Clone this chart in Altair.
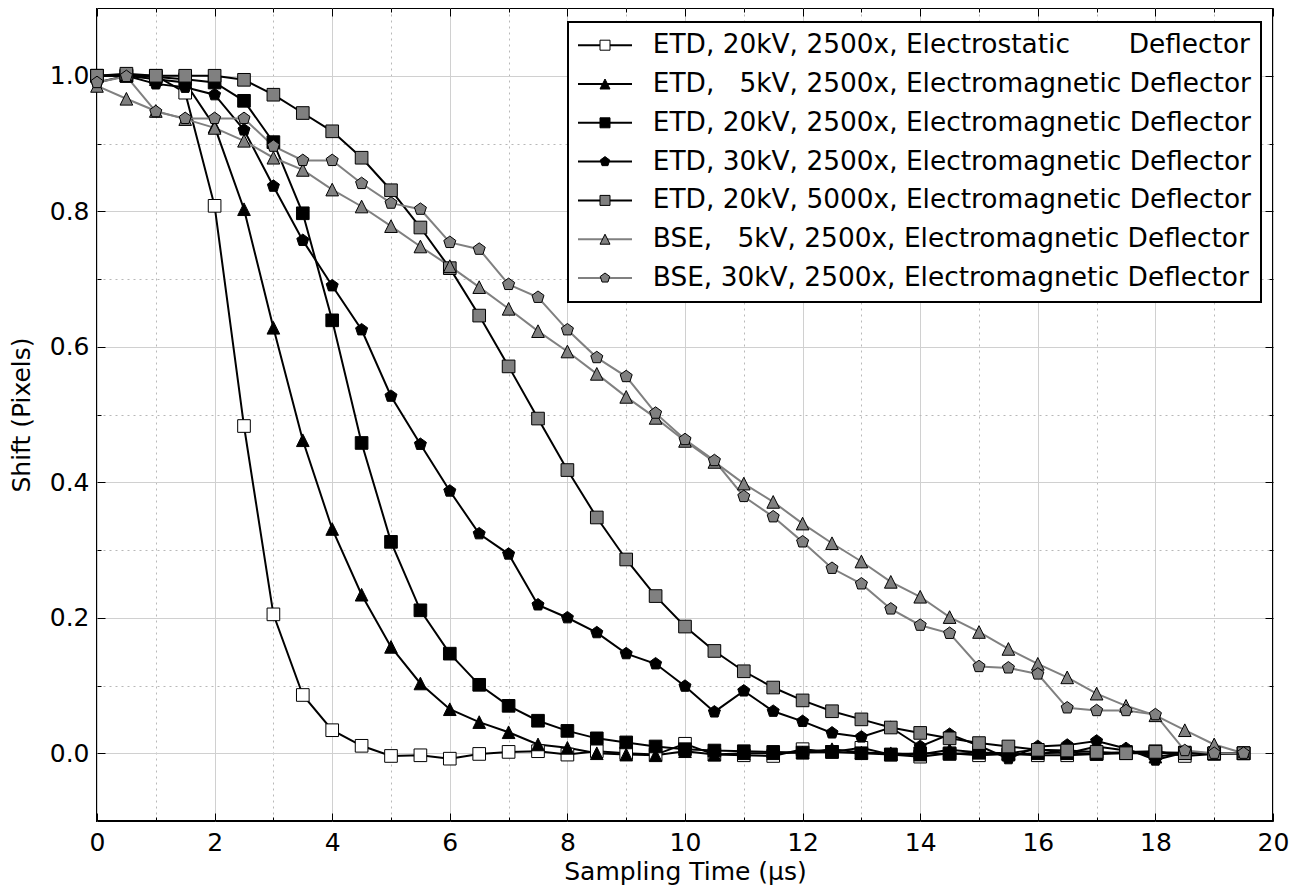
import altair as alt
import pandas as pd

NB = "\u00a0"

# ---- data -------------------------------------------------------------
x_time = [0.0, 0.5, 1.0, 1.5, 2.0, 2.5, 3.0, 3.5, 4.0, 4.5,
          5.0, 5.5, 6.0, 6.5, 7.0, 7.5, 8.0, 8.5, 9.0, 9.5,
          10.0, 10.5, 11.0, 11.5, 12.0, 12.5, 13.0, 13.5, 14.0, 14.5,
          15.0, 15.5, 16.0, 16.5, 17.0, 17.5, 18.0, 18.5, 19.0, 19.5]

names = [
    "ETD, 20kV, 2500x, Electrostatic" + NB * 7 + "Deflector",
    "ETD," + NB * 3 + "5kV, 2500x, Electromagnetic Deflector",
    "ETD, 20kV, 2500x, Electromagnetic Deflector",
    "ETD, 30kV, 2500x, Electromagnetic Deflector",
    "ETD, 20kV, 5000x, Electromagnetic Deflector",
    "BSE," + NB * 3 + "5kV, 2500x, Electromagnetic Deflector",
    "BSE, 30kV, 2500x, Electromagnetic Deflector",
]

etd20_es = [1.0, 1.0, 1.0, 0.975, 0.808, 0.483, 0.205, 0.086, 0.034, 0.011,
            -0.004, -0.003, -0.008, -0.001, 0.002, 0.003, -0.002, 0.003, 0.0, -0.002,
            0.014, -0.002, -0.003, -0.004, 0.006, 0.002, 0.008, -0.002, -0.005, 0.0,
            -0.003, -0.001, -0.003, -0.003, -0.001, 0.002, 0.003, -0.004, -0.001, 0.0]

etd5_em = [1.0, 1.0, 0.995, 0.99, 0.925, 0.803, 0.628, 0.462, 0.331, 0.234,
           0.157, 0.103, 0.065, 0.046, 0.031, 0.013, 0.008, 0.0, -0.002, -0.003,
           0.003, -0.002, 0.0, 0.0, 0.001, 0.006, 0.001, 0.0, -0.002, 0.005,
           0.001, 0.0, 0.006, 0.0, 0.01, 0.004, -0.005, 0.0, 0.0, 0.0]

etd20_em = [1.0, 1.0, 0.998, 0.995, 0.99, 0.963, 0.902, 0.797, 0.639, 0.458,
            0.312, 0.211, 0.147, 0.101, 0.07, 0.048, 0.033, 0.022, 0.016, 0.01,
            0.006, 0.004, 0.003, 0.002, 0.001, 0.002, 0.0, -0.002, 0.0, -0.001,
            0.001, -0.002, 0.0, 0.001, -0.001, 0.0, 0.0, 0.001, 0.0, 0.0]

etd30_em = [0.99, 1.0, 0.988, 0.983, 0.972, 0.92, 0.837, 0.757, 0.69, 0.625,
            0.527, 0.456, 0.387, 0.324, 0.294, 0.219, 0.2, 0.178, 0.147, 0.132,
            0.099, 0.061, 0.092, 0.062, 0.047, 0.03, 0.024, 0.038, 0.01, 0.028,
            0.011, -0.008, 0.01, 0.012, 0.018, 0.007, -0.01, 0.001, 0.0, 0.0]

etd20_5000 = [1.0, 1.003, 1.0, 1.0, 1.0, 0.994, 0.972, 0.945, 0.918, 0.879,
              0.831, 0.776, 0.716, 0.646, 0.571, 0.494, 0.418, 0.348, 0.286, 0.232,
              0.187, 0.151, 0.121, 0.097, 0.078, 0.062, 0.05, 0.038, 0.03, 0.022,
              0.015, 0.01, 0.005, 0.004, 0.002, 0.0, 0.002, 0.0, 0.0, 0.0]

bse5_em = [0.985, 0.966, 0.948, 0.936, 0.923, 0.904, 0.879, 0.861, 0.832, 0.807,
           0.778, 0.748, 0.719, 0.688, 0.656, 0.623, 0.593, 0.56, 0.526, 0.495,
           0.461, 0.43, 0.398, 0.371, 0.339, 0.31, 0.283, 0.253, 0.231, 0.201,
           0.179, 0.154, 0.132, 0.112, 0.088, 0.07, 0.056, 0.034, 0.013, 0.0]

bse30_em = [0.99, 0.999, 0.947, 0.937, 0.937, 0.937, 0.896, 0.875, 0.875, 0.841,
            0.812, 0.803, 0.754, 0.744, 0.692, 0.673, 0.625, 0.584, 0.556, 0.502,
            0.463, 0.432, 0.379, 0.349, 0.312, 0.273, 0.25, 0.213, 0.189, 0.177,
            0.128, 0.126, 0.117, 0.067, 0.063, 0.063, 0.057, 0.004, 0.0, 0.0]

series_values = [etd20_es, etd5_em, etd20_em, etd30_em, etd20_5000, bse5_em, bse30_em]

x_major = [0, 2, 4, 6, 8, 10, 12, 14, 16, 18, 20]
x_minor = [1, 3, 5, 7, 9, 11, 13, 15, 17, 19]
y_major = [0.0, 0.2, 0.4, 0.6, 0.8, 1.0]
y_minor = [0.1, 0.3, 0.5, 0.7, 0.9]

# ---- styles -------------------------------------------------------------
GRAY = "#808080"
line_colors = ["black", "black", "black", "black", "black", GRAY, GRAY]
fill_colors = ["white", "black", "black", "black", GRAY, GRAY, GRAY]
edge_colors = ["black"] * 7
SQUARE = "M-1,-1H1V1H-1Z"
TRIANGLE = "M0,-1L1,1L-1,1Z"
PENTAGON = "M0,-1L0.951,-0.309L0.588,0.809L-0.588,0.809L-0.951,-0.309Z"
shape_paths = [SQUARE, TRIANGLE, SQUARE, PENTAGON, SQUARE, TRIANGLE, PENTAGON]

rows = []
for name, ys in zip(names, series_values):
    for xv, yv in zip(x_time, ys):
        rows.append({"t": xv, "shift": yv, "series": name, "series_m": name})
df = pd.DataFrame(rows)

xscale = alt.Scale(domain=[0, 20], nice=False, zero=False)
yscale = alt.Scale(domain=[-0.1, 1.1], nice=False, zero=False)

FS = 25
GRID_MAJOR = "#d0d0d0"
GRID_MINOR = "#b8b8b8"


def carrier(xaxis, yaxis):
    return alt.Chart(df).mark_point(opacity=0).encode(
        x=alt.X("t:Q", scale=xscale, axis=xaxis),
        y=alt.Y("shift:Q", scale=yscale, axis=yaxis),
    )


def tick_axis(orient, values, size):
    return alt.Axis(orient=orient, values=values, grid=False, ticks=True,
                    tickSize=size, tickColor="black", tickWidth=1,
                    labels=False, domain=False, offset=-size, title=None)


x_main = alt.Axis(orient="bottom", values=x_major, grid=True, gridColor=GRID_MAJOR,
                  gridWidth=1, ticks=False, domain=False, labels=True,
                  labelFontSize=FS, labelColor="black", labelPadding=9,
                  labelFlush=False, labelOverlap=False, format="d",
                  title="Sampling Time (μs)", titleFontSize=FS,
                  titleFontWeight="normal", titleColor="black", titlePadding=4)
y_main = alt.Axis(orient="left", values=y_major, grid=True, gridColor=GRID_MAJOR,
                  gridWidth=1, ticks=False, domain=False, labels=True,
                  labelFontSize=FS, labelColor="black", labelPadding=8,
                  labelFlush=False, labelOverlap=False, format=".1f",
                  title="Shift (Pixels)", titleFontSize=FS,
                  titleFontWeight="normal", titleColor="black", titlePadding=15)
x_mgrid = alt.Axis(orient="bottom", values=x_minor, grid=True, gridColor=GRID_MINOR,
                   gridDash=[2, 4], gridWidth=1, ticks=False, labels=False,
                   domain=False, title=None)
y_mgrid = alt.Axis(orient="left", values=y_minor, grid=True, gridColor=GRID_MINOR,
                   gridDash=[2, 4], gridWidth=1, ticks=False, labels=False,
                   domain=False, title=None)

carriers = [
    carrier(x_main, y_main),
    carrier(x_mgrid, y_mgrid),
    carrier(tick_axis("bottom", x_major, 8), tick_axis("left", y_major, 8)),
    carrier(tick_axis("bottom", x_minor, 4), tick_axis("left", y_minor, 4)),
    carrier(tick_axis("top", x_major, 8), tick_axis("right", y_major, 8)),
    carrier(tick_axis("top", x_minor, 4), tick_axis("right", y_minor, 4)),
]

legend_common = dict(orient="none", legendX=471, legendY=14, direction="vertical",
                     labelFontSize=26.4, labelFont="DejaVu Sans", labelLimit=1200,
                     labelColor="black", rowPadding=11.8, padding=10,
                     symbolOffset=13.8, labelOffset=34.6, symbolSize=100)

legend_lines = alt.Legend(title=None, symbolType="M-5.4,0H5.4", symbolStrokeWidth=2,
                          strokeColor="black", fillColor="white", zindex=1,
                          **legend_common)
legend_marks = alt.Legend(title=None, labelOpacity=0,
                          symbolStrokeWidth=1, zindex=2, **legend_common)

lines = alt.Chart(df).mark_line(strokeWidth=2).encode(
    x=alt.X("t:Q", scale=xscale, axis=None),
    y=alt.Y("shift:Q", scale=yscale, axis=None),
    color=alt.Color("series:N", sort=names,
                    scale=alt.Scale(range=line_colors), legend=legend_lines),
    order=alt.Order("t:Q"),
)

points = alt.Chart(df).mark_point(filled=True, size=160,
                                  strokeWidth=1, opacity=1).encode(
    x=alt.X("t:Q", scale=xscale, axis=None),
    y=alt.Y("shift:Q", scale=yscale, axis=None),
    shape=alt.Shape("series_m:N",
                    scale=alt.Scale(domain=names, range=shape_paths),
                    legend=legend_marks),
    fill=alt.Fill("series_m:N",
                  scale=alt.Scale(domain=names, range=fill_colors),
                  legend=legend_marks),
    stroke=alt.Stroke("series_m:N",
                      scale=alt.Scale(domain=names, range=edge_colors),
                      legend=legend_marks),
)

base = alt.layer(*carriers, lines, points).resolve_axis(
    x="independent", y="independent"
).properties(
    width=1176, height=813,
    autosize=alt.AutoSizeParams(type="none"),
    padding={"left": 89, "top": 0, "right": 23, "bottom": 64},
)


def finish(c, thick_frame):
    c = c.configure(font="DejaVu Sans").configure_view(stroke="black", strokeWidth=2)
    if thick_frame:
        c = c.configure_legend(strokeWidth=2)
    return c


try:
    chart = finish(base, True)
    chart.to_dict()
except Exception:
    chart = finish(base, False)

chart.save("out.html", embed_options={"renderer": "svg", "actions": False})
